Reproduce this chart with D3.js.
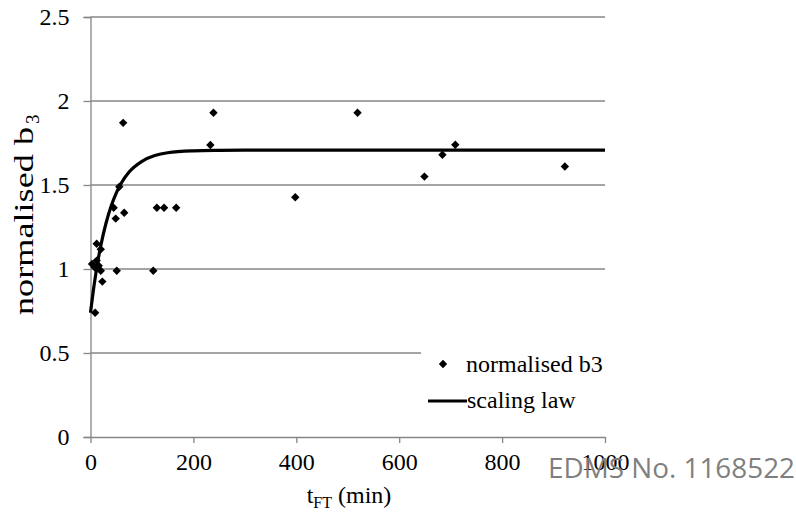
<!DOCTYPE html>
<html>
<head>
<meta charset="utf-8">
<script src="https://cdn.jsdelivr.net/npm/d3@7"></script>
<style>
  html, body { margin: 0; padding: 0; background: #fff; }
  svg { display: block; }
</style>
</head>
<body>
<svg id="chart" width="796" height="513"></svg>
<script>
// Measured b3 (normalised) against freezing-time t_FT in minutes
const tMeasured = [3, 8, 12, 12, 16, 20, 20, 23, 9, 45, 49, 51, 56, 63.5, 65.5, 122, 129, 143, 166.5, 233, 239, 398, 519, 649, 684, 709, 922];
const b3Measured = [1.03, 1.01, 1.05, 1.15, 1.02, 1.117, 0.99, 0.925, 0.74, 1.365, 1.30, 0.99, 1.49, 1.87, 1.335, 0.99, 1.365, 1.365, 1.365, 1.738, 1.93, 1.427, 1.93, 1.55, 1.68, 1.74, 1.61];

// Scaling-law curve
const lawT = [0, 5, 10, 15, 20, 30, 40, 50, 60, 75, 100, 125, 150, 200, 250, 300, 1000];
const lawB = [0.74, 0.86, 0.965, 1.058, 1.139, 1.271, 1.373, 1.452, 1.512, 1.577, 1.641, 1.675, 1.692, 1.703, 1.706, 1.707, 1.707];

const xTicks = [0, 200, 400, 600, 800, 1000];
const yTicks = [0, 0.5, 1, 1.5, 2, 2.5];
const yTickLabels = ["0", "0.5", "1", "1.5", "2", "2.5"];

const legendLabels = ["normalised b3", "scaling law"];

const svg = d3.select("#chart");
const gridColor = "#868686";
const fontSize = 24;
const serif = "'Liberation Serif', 'Times New Roman', serif";

const x = d3.scaleLinear().domain([0, 1000]).range([90.5, 605]);
const y = d3.scaleLinear().domain([0, 2.5]).range([437, 17]);

// horizontal gridlines
svg.append("g")
  .selectAll("line")
  .data(yTicks.filter(v => v > 0))
  .join("line")
  .attr("x1", x(0)).attr("x2", x(1000))
  .attr("y1", d => y(d)).attr("y2", d => y(d))
  .attr("stroke", gridColor).attr("stroke-width", 1.3);

// y axis
const yAxis = d3.axisLeft(y).tickValues(yTicks)
  .tickFormat((d, i) => yTickLabels[i]).tickSize(7).tickPadding(14);
const gy = svg.append("g").attr("transform", `translate(${x(0)},0)`).call(yAxis);
gy.select(".domain").attr("stroke", gridColor).attr("stroke-width", 1.3);
gy.selectAll(".tick line").attr("stroke", gridColor).attr("stroke-width", 1.3);
gy.selectAll(".tick text").style("font-size", fontSize + "px").attr("fill", "#000")
  .style("font-family", serif);

// x axis
const xAxis = d3.axisBottom(x).tickValues(xTicks).tickFormat(d3.format("d"))
  .tickSize(6).tickSizeOuter(0).tickPadding(10);
const gx = svg.append("g").attr("transform", `translate(0,${y(0)})`).call(xAxis);
gx.select(".domain").attr("stroke", gridColor).attr("stroke-width", 1.3);
gx.selectAll(".tick line").attr("stroke", gridColor).attr("stroke-width", 1.3);
gx.selectAll(".tick text").style("font-size", fontSize + "px").attr("fill", "#000")
  .style("font-family", serif);

// scaling-law curve
const lawData = lawT.map((t, i) => [t, lawB[i]]);
svg.append("path")
  .datum(lawData)
  .attr("d", d3.line().x(d => x(d[0])).y(d => y(d[1])).curve(d3.curveMonotoneX))
  .attr("fill", "none").attr("stroke", "#000").attr("stroke-width", 3.2)
  .attr("stroke-linejoin", "round");

// diamond markers
const diamond = "M0,-4.2L4.2,0L0,4.2L-4.2,0Z";
svg.append("g")
  .selectAll("path")
  .data(tMeasured.map((t, i) => [t, b3Measured[i]]))
  .join("path")
  .attr("d", diamond)
  .attr("transform", d => `translate(${x(d[0])},${y(d[1])})`)
  .attr("fill", "#000");

// legend
const lg = svg.append("g");
lg.append("rect").attr("x", 421).attr("y", 345).attr("width", 200).attr("height", 80).attr("fill", "#fff");
lg.append("path").attr("d", diamond).attr("transform", "translate(443,364)").attr("fill", "#000");
lg.append("text").attr("x", 466).attr("y", 372)
  .style("font-family", serif).style("font-size", fontSize + "px").text(legendLabels[0]);
lg.append("line").attr("x1", 428).attr("x2", 467).attr("y1", 401).attr("y2", 401)
  .attr("stroke", "#000").attr("stroke-width", 3.2);
lg.append("text").attr("x", 467).attr("y", 408)
  .style("font-family", serif).style("font-size", fontSize + "px").text(legendLabels[1]);

// axis titles
const xt = svg.append("text").attr("x", 349).attr("y", 503).attr("text-anchor", "middle")
  .style("font-family", serif).style("font-size", fontSize + "px");
xt.append("tspan").text("t");
xt.append("tspan").style("font-size", "16px").attr("dy", 5).text("FT");
xt.append("tspan").attr("dy", -5).text(" (min)");

// vertical title, drawn as main text plus subscript
svg.append("text").attr("transform", "translate(33,315) rotate(-90)")
  .style("font-family", serif).style("font-size", "28px")
  .attr("textLength", 188).attr("lengthAdjust", "spacingAndGlyphs")
  .text("normalised b");
svg.append("text").attr("transform", "translate(39,124) rotate(-90)")
  .style("font-family", serif).style("font-size", "19px")
  .text("3");

// document stamp
svg.append("text").attr("x", 548).attr("y", 478)
  .style("font-family", "'Open Sans', 'Noto Sans', sans-serif")
  .style("font-size", "27px").attr("fill", "#7f7f7f")
  .attr("textLength", 247).attr("lengthAdjust", "spacingAndGlyphs")
  .text("EDMS No. 1168522");
</script>
</body>
</html>
